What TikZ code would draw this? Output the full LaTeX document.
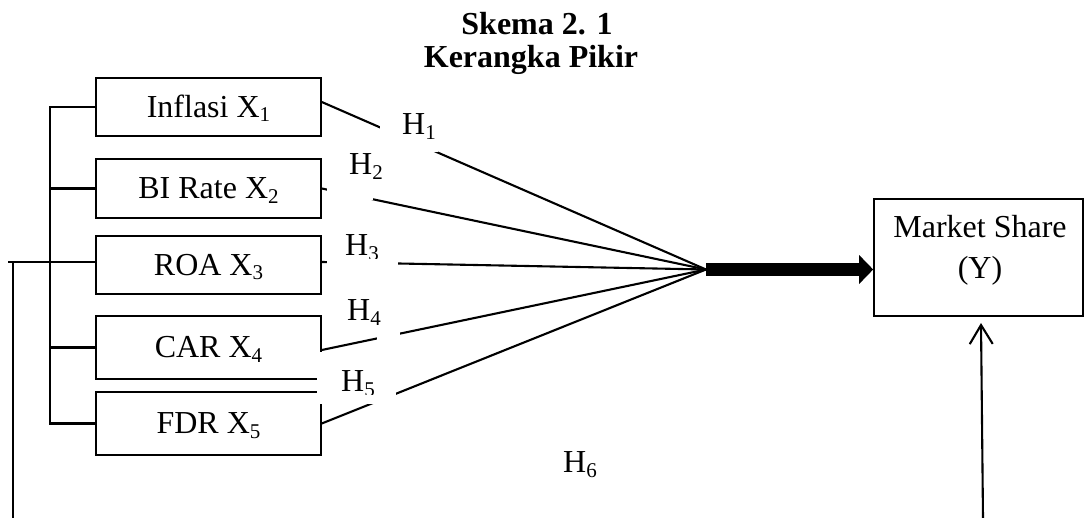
\documentclass[tikz,border=0pt]{standalone}
\usepackage{fontspec}
\setmainfont{Liberation Serif}
\usetikzlibrary{arrows.meta}
% subscript as set by a word processor: smaller and lowered
\newcommand\lowsub[1]{\raisebox{-4.5pt}{\fontsize{21}{21}\selectfont #1}}

\begin{document}
\begin{tikzpicture}[x=1pt,y=-1pt,
  every node/.style={font=\fontsize{32}{38}\selectfont},
  varbox/.style={draw, line width=1.6pt, minimum width=225pt, inner sep=0pt,
                 text height=21pt, text depth=0pt},
  link/.style={line width=2.1pt},
  labelbg/.style={fill=white, draw=none},
  hyp/.style={anchor=base west, inner sep=0pt},
  plain/.style={anchor=base, inner sep=0pt},
]
\path[use as bounding box] (0,0) rectangle (1085,518);

% title
\node[plain, font=\fontsize{32}{38}\selectfont\bfseries] (t1) at (537,35) {Skema 2. 1};
\node[plain, font=\fontsize{32}{38}\selectfont\bfseries] (t2) at (531,68) {Kerangka Pikir};

% independent variables
\node[varbox, minimum height=58pt] (x1) at (208.5,107)   {Inflasi X\lowsub{1}};
\node[varbox, minimum height=59pt] (x2) at (208.5,188.5) {BI Rate X\lowsub{2}};
\node[varbox, minimum height=58pt] (x3) at (208.5,265)   {ROA X\lowsub{3}};
\node[varbox, minimum height=63pt] (x4) at (208.5,347.5) {CAR X\lowsub{4}};
\node[varbox, minimum height=63pt] (x5) at (208.5,423.5) {FDR X\lowsub{5}};

% dependent variable
\node[draw, line width=1.6pt, minimum width=209pt, minimum height=117pt, inner sep=0pt] (y) at (978.5,257.5) {};
\node[plain] (yl1) at (980,238) {Market Share};
\node[plain] (yl2) at (980,279) {(Y)};

% bracket joining the five variables
\coordinate (rail) at (50,0);
\draw[link] (x1.west) -- (x1.west -| rail) -- (x5.west -| rail) -- (x5.west);
\draw[link] (x2.west) -- (x2.west -| rail);
\draw[link] ([yshift=3pt]x3.west) -- ([yshift=3pt]x3.west -| rail);
\draw[link] (x4.west) -- (x4.west -| rail);

% simultaneous path (H6)
\coordinate (ol) at (8,262);
\coordinate (ob) at (13,518);
\coordinate (rb) at (983,518);
\coordinate (rt) at (981,323);
\draw[link] (ol) -- ([yshift=3pt]x3.west);
\draw[link] (ob) -- (ob |- ol);
\draw[link, -{Straight Barb[length=19pt,width=23pt]}] (rb) -- (rt);

% partial paths converging on the hub
\coordinate (hub) at (706,269.5);
\draw[link] ([yshift=5pt]x1.east) -- (hub);
\draw[link] (x2.east) -- (hub);
\draw[link] ([yshift=3pt]x3.east) -- (hub);
\draw[link] ([yshift=-2.5pt]x4.east) -- (hub);
\draw[link] (x5.east) -- (hub);
\draw[line width=13pt, -{Triangle[length=14pt,width=28pt]}] (hub) -- (hub -| y.west);

% hypothesis labels on white backgrounds
\path[labelbg] (380,110) rectangle (438,152);
\path[labelbg] (327,150) rectangle (373,200);
\path[labelbg] (327,232) rectangle (398,266);
\path[labelbg] (377,322) rectangle (400,345);
\path[labelbg] (317,352) rectangle (396,404);

\node[hyp] (h1) at (402,135) {H\lowsub{1}};
\node[hyp] (h2) at (349,175) {H\lowsub{2}};
\begin{scope}
  \clip (327,228) rectangle (398,259);
  \node[hyp] (h3) at (345,256) {H\lowsub{3}};
\end{scope}
\node[hyp] (h4) at (347,321) {H\lowsub{4}};
\begin{scope}
  \clip (317,352) rectangle (396,395);
  \node[hyp] (h5) at (341,392) {H\lowsub{5}};
\end{scope}
\node[hyp] (h6) at (563,473) {H\lowsub{6}};
\end{tikzpicture}
\end{document}
